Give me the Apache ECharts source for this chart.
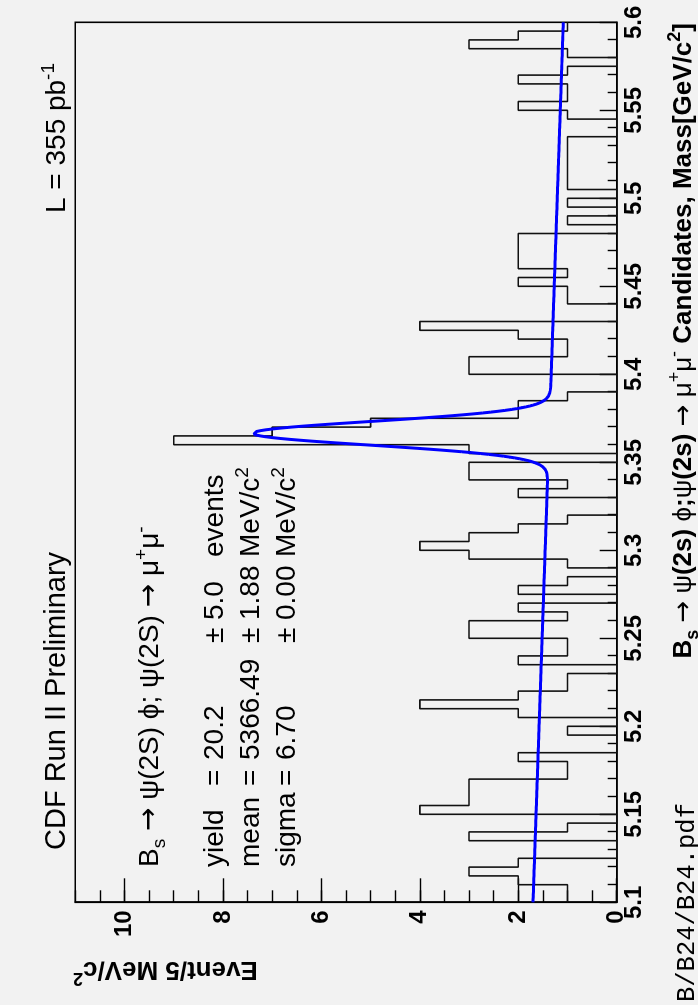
<!DOCTYPE html>
<html>
<head>
<meta charset="utf-8">
<script src="https://cdn.jsdelivr.net/npm/echarts@6/dist/echarts.min.js"></script>
<style>
  html, body { margin: 0; padding: 0; width: 698px; height: 1005px; overflow: hidden; background: #f2f2f2; }
  /* the plot is laid out landscape and turned a quarter turn counter-clockwise */
  #stage { position: absolute; left: 0; top: 0; width: 1005px; height: 698px;
           transform-origin: 0 0; transform: translate(0, 1005px) rotate(-90deg); }
</style>
</head>
<body>
<div id="stage"></div>
<script>
// B_s -> psi(2S) phi candidates, 5 MeV/c^2 bins from 5.100 to 5.600 GeV/c^2
const MASS_MIN = 5.1;
const MASS_MAX = 5.6;
const BIN_WIDTH = 0.005;

const binCounts = [
  1, 1, 2, 3, 2, 0, 0, 3, 1, 0,   // 5.100 - 5.150
  4, 3, 3, 3, 1, 1, 2, 0, 0, 1,   // 5.150 - 5.200
  0, 2, 4, 2, 1, 1, 0, 2, 1, 1,   // 5.200 - 5.250
  3, 3, 1, 2, 0, 2, 1, 0, 1, 3,   // 5.250 - 5.300
  4, 3, 2, 1, 0, 0, 2, 1, 3, 3,   // 5.300 - 5.350
  0, 3, 9, 7, 5, 2, 2, 1, 0, 0,   // 5.350 - 5.400
  3, 3, 1, 1, 2, 4, 0, 0, 1, 1,   // 5.400 - 5.450
  2, 1, 2, 2, 2, 2, 0, 1, 0, 1,   // 5.450 - 5.500
  0, 1, 1, 1, 1, 1, 1, 0, 0, 1,   // 5.500 - 5.550
  2, 1, 1, 2, 1, 0, 1, 3, 2, 1    // 5.550 - 5.600
];

// Gaussian signal + linear background fit
const fitYield = 20.2;      // events
const fitMean = 5366.49;    // MeV/c^2
const fitSigma = 6.70;      // MeV/c^2
const bkgAtMin = 1.70;      // events / bin at 5.1 GeV/c^2
const bkgAtMax = 1.085;     // events / bin at 5.6 GeV/c^2

const eventLabels = [0, 2, 4, 6, 8, 10];

// ---------- series data ----------
const histData = binCounts.map((c, i) => [MASS_MIN + i * BIN_WIDTH, c]);
histData.push([MASS_MAX, binCounts[binCounts.length - 1]]);

function fitValue(m) {
  const bkg = bkgAtMin + (bkgAtMax - bkgAtMin) * (m - MASS_MIN) / (MASS_MAX - MASS_MIN);
  const mev = m * 1000;
  const amp = fitYield * BIN_WIDTH * 1000 / (fitSigma * Math.sqrt(2 * Math.PI));
  return bkg + amp * Math.exp(-0.5 * Math.pow((mev - fitMean) / fitSigma, 2));
}
const fitData = [];
for (let k = 0; k <= 1000; k++) {
  const m = MASS_MIN + (MASS_MAX - MASS_MIN) * k / 1000;
  fitData.push([m, fitValue(m)]);
}

// ---------- text helpers ----------
const SANS = '"Liberation Sans", Arial, Helvetica, sans-serif';
const SYM = '"DejaVu Sans", sans-serif';
const MONO = '"Liberation Mono", "DejaVu Sans Mono", monospace';
const measureCtx = document.createElement('canvas').getContext('2d');
function textWidth(t, size, weight, family) {
  measureCtx.font = weight + ' ' + size + 'px ' + family;
  return measureCtx.measureText(t).width;
}
const MID = 0.35; // canvas 'middle' sits this many em above the alphabetic baseline

function runChildren(parts, defaults, align) {
  const items = parts.map(p => Object.assign({}, defaults, p));
  let total = 0;
  items.forEach(p => { p.w = textWidth(p.t, p.size, p.weight, p.family); total += p.w; });
  let x = align === 'right' ? -total : 0;
  const els = [];
  items.forEach(p => {
    els.push({
      type: 'text', x: x, y: (p.dy || 0) - MID * p.size, silent: true,
      style: { text: p.t, fontSize: p.size, fontWeight: p.weight, fontFamily: p.family,
               fill: '#000', align: 'left', verticalAlign: 'middle' }
    });
    x += p.w;
  });
  return els;
}
function textRun(x, baseline, parts, defaults, align, rotation) {
  return { type: 'group', x: x, y: baseline, rotation: rotation || 0, silent: true,
           children: runChildren(parts, defaults, align) };
}

const N28 = { size: 28, weight: 'normal', family: SANS };
const SUP = { size: 19, dy: -12 };
const SUB = { size: 19, dy: 6 };
const ARROW = { t: '\u2192', family: SYM, weight: 'normal' };

const texts = [];
texts.push(textRun(155, 67, [{ t: 'CDF Run II Preliminary' }], { size: 29, weight: 'normal', family: SANS }));
texts.push(textRun(792, 67, [{ t: 'L = 355 pb' }, Object.assign({ t: '-1' }, SUP)], N28));

texts.push(textRun(138, 160, [
  { t: 'B' }, Object.assign({ t: 's' }, SUB), { t: ' ' }, ARROW,
  { t: ' \u03c8(2S) \u03d5; \u03c8(2S) ' }, ARROW, { t: ' \u03bc' }, Object.assign({ t: '+' }, SUP),
  { t: '\u03bc' }, Object.assign({ t: '-' }, SUP)
], N28));

const rows = [
  { name: 'yield', value: '20.2', err: '5.0', unit: 'events', sup: '', base: 225 },
  { name: 'mean', value: '5366.49', err: '1.88', unit: 'MeV/c', sup: '2', base: 261 },
  { name: 'sigma', value: '6.70', err: '0.00', unit: 'MeV/c', sup: '2', base: 297 }
];
rows.forEach(r => {
  texts.push(textRun(138, r.base, [{ t: r.name }], N28));
  texts.push(textRun(219, r.base, [{ t: '=' }], N28));
  texts.push(textRun(245, r.base, [{ t: r.value }], N28));
  texts.push(textRun(362, r.base, [{ t: '\u00b1' }], N28));
  texts.push(textRun(385, r.base, [{ t: r.err }], N28));
  const unitParts = [{ t: r.unit }];
  if (r.sup) unitParts.push(Object.assign({ t: r.sup }, SUP));
  texts.push(textRun(448, r.base, unitParts, N28));
});

// mass axis title, right aligned to the end of the axis
const B26 = { size: 26, weight: 'bold', family: SANS };
const NB = { weight: 'normal' };
const ARROW26 = { t: '\u2192', family: SYM, weight: 'normal' };
texts.push(textRun(982, 693, [
  { t: 'B' }, { t: 's', size: 18, dy: 6 }, { t: ' ' },
  ARROW26, { t: ' ' },
  Object.assign({ t: '\u03c8' }, NB), { t: '(2s) ' },
  Object.assign({ t: '\u03d5' }, NB), { t: ';' },
  Object.assign({ t: '\u03c8' }, NB), { t: '(2s) ' },
  ARROW26, { t: ' ' },
  Object.assign({ t: '\u03bc' }, NB), { t: '+', size: 18, dy: -12, weight: 'normal' },
  Object.assign({ t: '\u03bc' }, NB), { t: '-', size: 18, dy: -12, weight: 'normal' },
  { t: ' Candidates, Mass[GeV/c' }, { t: '2', size: 18, dy: -12 }, { t: ']' }
], B26, 'right'));

// event axis title, reading upwards, ending at the top of the axis
texts.push(textRun(45, 73, [
  { t: 'Event/5 MeV/c' }, { t: '2', size: 18, dy: -12 }
], B26, 'right', Math.PI / 2));

// file path footer
texts.push(textRun(3, 696, [{ t: 'B/B24/B24.pdf' }], { size: 25.5, weight: 'normal', family: MONO }));

// ---------- chart ----------
const chart = echarts.init(document.getElementById('stage'), null, { width: 1005, height: 698, renderer: 'canvas' });
const black = '#000';
chart.setOption({
  animation: false,
  backgroundColor: '#f2f2f2',
  grid: { left: 102.7, right: 22.3, top: 75.3, bottom: 81.3, show: true,
          borderColor: black, borderWidth: 1.6, backgroundColor: 'transparent', containLabel: false },
  xAxis: {
    type: 'value', min: MASS_MIN, max: MASS_MAX, interval: 0.05,
    axisLine: { show: true, onZero: false, lineStyle: { color: black, width: 1.6 } },
    axisTick: { show: true, inside: true, length: 17, lineStyle: { color: black, width: 1.4 } },
    minorTick: { show: true, splitNumber: 5, length: 9, lineStyle: { color: black, width: 1.4 } },
    splitLine: { show: false }, minorSplitLine: { show: false },
    axisLabel: { color: black, fontFamily: SANS, fontWeight: 'bold', fontSize: 24, margin: 6,
                 showMinLabel: true, showMaxLabel: true,
                 formatter: v => String(Math.round(v * 100) / 100) }
  },
  yAxis: [
    {
      type: 'value', position: 'left', offset: 0, min: 0, max: 11, interval: 2,
      axisLine: { show: true, onZero: false, lineStyle: { color: black, width: 1.6 } },
      axisTick: { show: true, inside: true, length: 24, lineStyle: { color: black, width: 1.4 } },
      splitLine: { show: false },
      axisLabel: { color: black, fontFamily: SANS, fontWeight: 'bold', fontSize: 24, margin: 8,
                   showMinLabel: true, showMaxLabel: false,
                   formatter: v => (eventLabels.indexOf(v) >= 0 ? String(v) : '') }
    },
    {
      type: 'value', position: 'left', offset: 0, min: 0, max: 11, interval: 0.5,
      axisLine: { show: false },
      axisTick: { show: true, inside: true, length: 12, lineStyle: { color: black, width: 1.4 } },
      splitLine: { show: false },
      axisLabel: { show: false }
    }
  ],
  series: [
    {
      name: 'candidates', type: 'line', step: 'end', data: histData,
      xAxisIndex: 0, yAxisIndex: 0, symbol: 'none', clip: true,
      lineStyle: { color: '#111', width: 1.6 }, z: 3
    },
    {
      name: 'fit', type: 'line', data: fitData, smooth: false,
      xAxisIndex: 0, yAxisIndex: 0, symbol: 'none', clip: true,
      lineStyle: { color: '#0000ff', width: 3 }, z: 4
    }
  ],
  graphic: texts
});
</script>
</body>
</html>
